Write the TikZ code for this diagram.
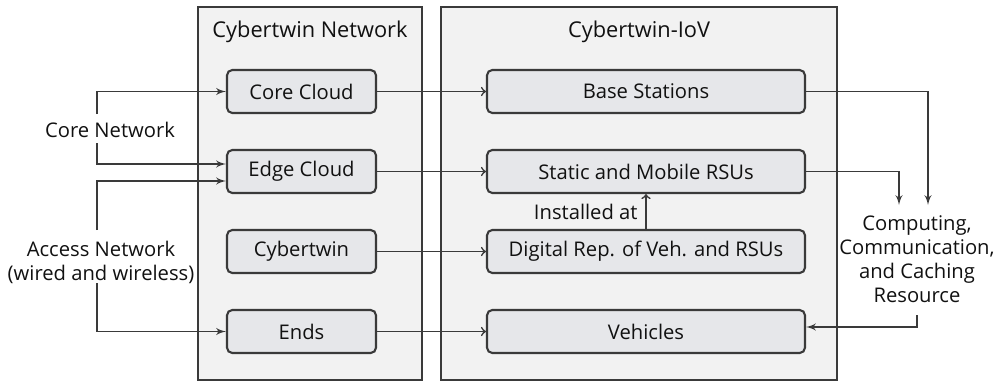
\documentclass[tikz,border=0pt]{standalone}
\usepackage{fontspec}
\setmainfont{Open Sans}
\usetikzlibrary{arrows}
\definecolor{linegray}{HTML}{3A3A3A}
\definecolor{panelbg}{HTML}{F2F2F2}
\definecolor{blockbg}{HTML}{E6E7EA}
\definecolor{textdark}{HTML}{111111}

\begin{document}
\begin{tikzpicture}[x=0.02cm, y=-0.02cm, >=to, color=linegray, line width=0.95pt,
    font=\fontsize{11.5}{13.6}\selectfont]
  \tikzstyle{panel} = [draw, fill=panelbg, line width=1.2pt, minimum height=7.46cm]
  \tikzstyle{block} = [draw, fill=blockbg, rounded corners=3pt, line width=1.2pt,
                       minimum height=0.86cm, text=textdark]
  \tikzstyle{lbl} = [text=textdark, align=center]
  \tikzstyle{tmp} = [coordinate]
  \useasboundingbox (0,0) rectangle (994,382);

  % the two panels
  \node [panel, minimum width=4.48cm] (cnpanel) at (310,193.5) {};
  \node [panel, minimum width=7.92cm] (iovpanel) at (639,193.5) {};
  \node [lbl, font=\fontsize{12.4}{14}\selectfont] (cntitle) at (310,32) {Cybertwin Network};
  \node [lbl, font=\fontsize{12.4}{14}\selectfont] (iovtitle) at (639,32) {Cybertwin-IoV};

  % Cybertwin network side
  \node [block, minimum width=2.98cm] (core) at (301.5,91.5) {Core Cloud};
  \node [block, minimum width=2.98cm] (edge) at (301.5,171.5) {Edge Cloud};
  \node [block, minimum width=2.98cm] (twin) at (301.5,251.5) {Cybertwin};
  \node [block, minimum width=2.98cm] (ends) at (301.5,331.5) {Ends};

  % IoV side
  \node [block, minimum width=6.36cm] (base) at (646,91.5) {Base Stations};
  \node [block, minimum width=6.36cm] (rsu) at (646,171.5) {Static and Mobile RSUs};
  \node [block, minimum width=6.36cm] (digrep) at (646,251.5) {Digital Rep. of Veh. and RSUs};
  \node [block, minimum width=6.36cm] (veh) at (646,331.5) {Vehicles};

  % outside labels
  \node [lbl] (corenet) at (110,130) {Core Network};
  \node [lbl] (accnet) at (101,262) {Access Network\\(wired and wireless)};
  \node [lbl] (resource) at (917,259) {Computing,\\Communication,\\and Caching\\Resource};

  \node [tmp] (corein1) at (97,114) {};
  \node [tmp] (corein2) at (97,143) {};
  \node [tmp] (accin1) at (97,230) {};
  \node [tmp] (accin2) at (97,283) {};
  \node [tmp] (bsdrop) at (928,205) {};
  \node [tmp] (rsudrop) at (899,205) {};
  \node [tmp] (resout) at (917,315) {};

  \draw [-latex'] (corein1) |- (core);
  \draw [-latex'] (corein2) |- ([yshift=0.15cm]edge.west);
  \draw [-latex'] (accin1) |- ([yshift=-0.19cm]edge.west);
  \draw [-latex'] (accin2) |- (ends);

  \draw [->] (core) -- (base);
  \draw [->] (edge) -- (rsu);
  \draw [->] (twin) -- (digrep);
  \draw [->] (ends) -- (veh);
  \draw [->] (digrep) -- node [lbl, left=1pt] {Installed at} (rsu);

  \draw [-latex'] (base) -| (bsdrop);
  \draw [-latex'] (rsu) -| (rsudrop);
  \draw [-latex'] (resout) |- ([yshift=0.09cm]veh.east);
\end{tikzpicture}
\end{document}
